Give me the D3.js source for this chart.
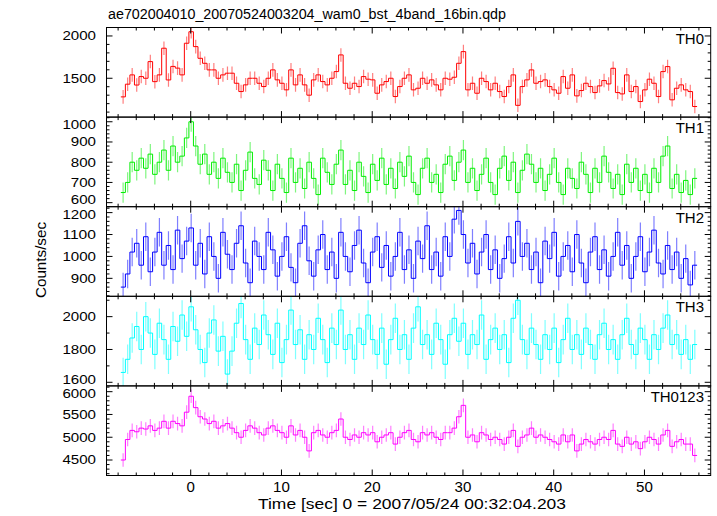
<!DOCTYPE html>
<html><head><meta charset="utf-8">
<script src="https://cdn.jsdelivr.net/npm/d3@7"></script>
<style>body{margin:0;background:#fff}svg{display:block}text{font-family:"Liberation Sans",Arial,Helvetica,sans-serif;fill:#000}</style>
</head><body><svg id="c" width="717" height="516"></svg>
<script>
const title = "ae702004010_20070524003204_wam0_bst_4band_16bin.qdp";
const xLabel = "Time [sec] 0 = 2007/05/24 00:32:04.203";
const yLabel = "Counts/sec";
const panelNames = ["TH0", "TH1", "TH2", "TH3", "TH0123"];
const panelColors = ["#ff0000", "#00ee00", "#0000ff", "#00ffff", "#ff00ff"];
const tStart = -7.7, binWidth = 0.5;
const xDomain = [-9.28, 57.3];
const xMajor = [0, 10, 20, 30, 40, 50];
const yDomains = [[1041, 2100], [580, 1023], [818, 1227], [1578, 2124], [4160, 6127]];
const yMajorTicks = [[1500, 2000], [600, 700, 800, 900, 1000], [900, 1000, 1100, 1200], [1600, 1800, 2000], [4500, 5000, 5500, 6000]];
const yMinorStep = [100, 20, 20, 100, 100];
const errHalf = [80, 50, 65, 90, 150];

const th0 = [1280,1430,1540,1420,1520,1500,1697,1460,1540,1855,
1480,1640,1620,1540,1914,2050,1874,1736,1677,1599,
1599,1500,1540,1560,1560,1441,1343,1422,1500,1500,
1441,1402,1500,1599,1481,1441,1363,1599,1422,1540,
1422,1300,1481,1540,1461,1422,1500,1579,1776,1441,
1382,1441,1402,1520,1489,1481,1323,1422,1461,1500,
1284,1402,1500,1540,1363,1382,1500,1441,1481,1422,
1363,1500,1489,1512,1677,1815,1363,1441,1323,1500,
1461,1363,1441,1343,1284,1402,1540,1180,1402,1481,
1599,1441,1461,1481,1402,1363,1323,1520,1382,1540,
1292,1355,1441,1402,1331,1410,1473,1433,1618,1331,
1315,1540,1343,1402,1225,1363,1489,1441,1284,1579,
1638,1245,1382,1422,1363,1343,1166];
const th1 = [650,700,800,760,820,770,840,740,800,860,
760,880,800,830,920,1000,880,790,840,740,
800,720,820,750,700,790,660,760,850,720,
690,810,760,660,790,720,650,820,700,770,
670,800,720,640,820,750,690,790,860,690,
760,660,800,730,650,790,710,820,690,770,
670,800,730,830,700,640,770,820,700,740,
650,790,830,710,800,860,700,770,660,740,
820,700,640,770,830,710,800,650,760,840,
790,700,770,660,740,820,700,640,770,720,
670,800,740,650,770,700,830,750,670,740,
640,790,700,770,660,740,650,770,700,830,
880,670,740,650,710,640,720];
const th2 = [860,920,1020,1060,960,1090,930,1020,1110,960,
1050,940,1120,990,1070,1130,960,1060,920,1090,
1000,900,1110,1010,940,1060,1140,970,880,1070,
1000,940,1110,1030,910,1000,1090,950,880,1060,
1140,980,910,1030,1100,940,1020,900,1110,1000,
930,1050,1120,970,880,1020,1090,950,1050,910,
1000,1110,940,1030,900,1070,990,1140,940,1020,
910,1090,1000,1170,1210,1100,970,1060,920,1020,
1100,940,1030,900,990,1090,970,1160,1000,1060,
940,1020,880,1070,990,1110,910,1000,1050,930,
1100,970,880,1020,1090,940,1030,910,1000,1110,
960,1050,900,1000,1090,930,1020,1120,970,920,
1050,940,1020,900,990,870,960];
const th3 = [1660,1740,1870,1940,1800,2000,1900,1770,1960,1860,
1740,1940,1850,2010,1880,2060,1920,1800,1720,1900,
1980,1790,1880,1650,1790,1960,2080,1860,1740,1930,
1830,2010,1890,1770,1960,1720,1860,2040,1830,1920,
1740,1890,1800,1990,1860,1720,1930,1830,2040,1800,
1890,1740,1930,1830,2010,1860,1770,1930,1710,1860,
1990,1800,1890,1740,1930,2060,1830,1890,1770,1960,
1860,1710,1890,1990,1850,1960,1770,1890,1830,2010,
1740,1860,1930,1800,1890,1720,1990,2100,1860,1770,
1930,1830,1740,1890,1800,1930,1720,1860,1990,1800,
1890,1770,1930,1830,1740,1890,1960,1800,1860,1740,
1890,1990,1830,1770,1930,1860,1740,1890,1800,1930,
2010,1830,1890,1770,1860,1740,1830];
const th0123 = [4500,4950,5150,5120,5200,5180,5250,5150,5200,5350,
5200,5350,5300,5250,5550,5900,5650,5450,5400,5300,
5350,5200,5250,5300,5200,5100,5000,5150,5250,5200,
5100,5050,5200,5250,5150,5100,5000,5250,5050,5150,
5000,4700,5100,5150,5050,5000,5100,5150,5400,5000,
4950,5050,5000,5100,5050,5100,4900,5000,5050,5100,
4850,5000,5100,5150,4950,4900,5100,5050,5100,5000,
4950,5100,5100,5200,5450,5700,5000,5050,4900,5100,
5050,4950,5000,4950,4850,5000,5150,4800,5000,5050,
5200,5000,5050,5000,4950,4900,4850,5050,4900,5050,
4700,4850,4950,4900,4850,4950,5000,4950,5150,4850,
4800,5000,4850,4900,4750,4900,5000,4950,4850,5050,
5150,4800,4900,4950,4850,4850,4600];
const seriesList = [th0, th1, th2, th3, th0123];

const svg = d3.select("#c");
const L = 106.5, R = 710.7, T = 27.5, B = 475.5;
const ph = (B - T) / 5;
const x = d3.scaleLinear().domain(xDomain).range([L, R]);
const xMinor = d3.range(-8, 57, 2);

function label(sel, txt, fs, width) {
  const t = sel.append("text").attr("font-size", fs).text(txt);
  if (width) t.attr("textLength", width).attr("lengthAdjust", "spacingAndGlyphs");
  return t;
}

label(svg, title, 14, 398).attr("x", 108).attr("y", 19);

seriesList.forEach((vals, p) => {
  const top = T + p * ph, bot = top + ph;
  const y = d3.scaleLinear().domain(yDomains[p]).range([bot, top]);
  const g = svg.append("g");
  const clipId = "clip" + p;
  svg.append("clipPath").attr("id", clipId).append("rect")
    .attr("x", L).attr("y", top).attr("width", R - L).attr("height", ph);
  const dg = g.append("g").attr("clip-path", `url(#${clipId})`);
  const col = panelColors[p];
  dg.selectAll("line.err").data(vals).join("line")
    .attr("x1", (d, i) => x(tStart + (i + 0.5) * binWidth))
    .attr("x2", (d, i) => x(tStart + (i + 0.5) * binWidth))
    .attr("y1", d => y(d - errHalf[p])).attr("y2", d => y(d + errHalf[p]))
    .attr("stroke", col).attr("stroke-opacity", 0.5).attr("stroke-width", 1.2);
  const pts = [];
  vals.forEach((v, i) => { pts.push([tStart + i * binWidth, v]); pts.push([tStart + (i + 1) * binWidth, v]); });
  dg.append("path").datum(pts)
    .attr("d", d3.line().x(d => x(d[0])).y(d => y(d[1])))
    .attr("fill", "none").attr("stroke", col).attr("stroke-width", 1);

  g.append("rect").attr("x", L).attr("y", top).attr("width", R - L).attr("height", ph)
    .attr("fill", "none").attr("stroke", "#000").attr("stroke-width", 1);
  const yd = yDomains[p];
  const yMin = d3.range(Math.ceil(yd[0] / yMinorStep[p]) * yMinorStep[p], yd[1], yMinorStep[p]);
  const isMajor = v => yMajorTicks[p].some(m => Math.abs(m - v) < 1e-6);
  yMin.forEach(v => {
    const len = isMajor(v) ? 6 : 3;
    g.append("line").attr("x1", L).attr("x2", L + len).attr("y1", y(v)).attr("y2", y(v)).attr("stroke", "#000");
    g.append("line").attr("x1", R).attr("x2", R - len).attr("y1", y(v)).attr("y2", y(v)).attr("stroke", "#000");
  });
  yMajorTicks[p].forEach(v => {
    const s = String(v);
    const py = y(v);
    let dy = 0;
    if (bot - py < 6 && p < 4) dy = -2.5;
    if (py - top < 7 && p > 0) dy = 2.5;
    label(g, s, 12, s.length * 8.4).attr("x", 96 - s.length * 8.4).attr("y", py + 4.3 + dy);
  });
  xMinor.forEach(t => {
    const len = xMajor.includes(t) ? 6 : 3;
    g.append("line").attr("x1", x(t)).attr("x2", x(t)).attr("y1", top).attr("y2", top + len).attr("stroke", "#000");
    g.append("line").attr("x1", x(t)).attr("x2", x(t)).attr("y1", bot).attr("y2", bot - len).attr("stroke", "#000");
  });
  g.append("text").attr("x", 704).attr("y", top + 16).attr("text-anchor", "end")
    .attr("font-size", 15).text(panelNames[p]);
});

xMajor.forEach(t => {
  const s = String(t);
  label(svg, s, 14, s.length * 8.4).attr("x", x(t) - s.length * 4.2).attr("y", 492);
});
label(svg, xLabel, 14, 308).attr("x", 412 - 154).attr("y", 509);
label(svg, yLabel, 14, 76).attr("transform", "translate(46,298) rotate(-90)");
</script></body></html>
